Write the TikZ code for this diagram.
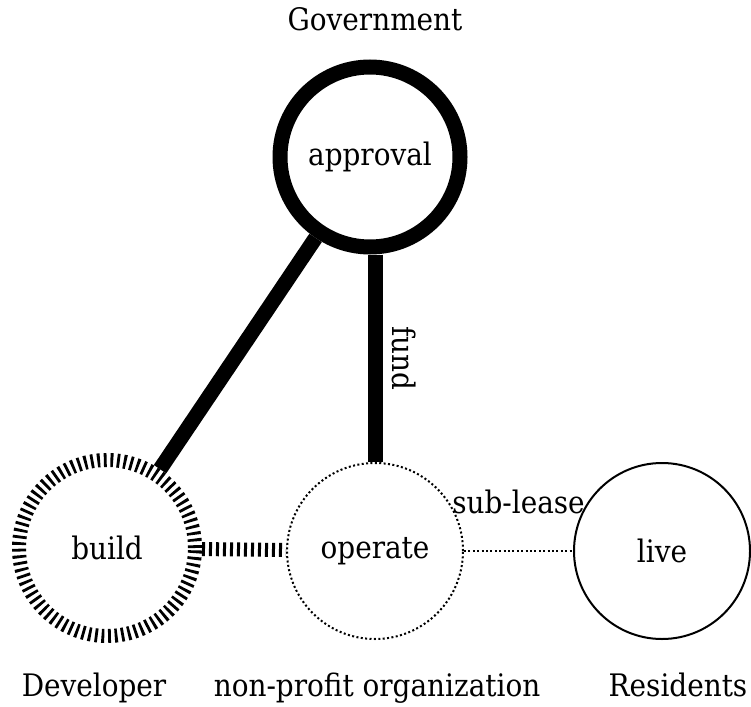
\documentclass[tikz,border=0pt]{standalone}
\usepackage{fontspec}
\setmainfont{DejaVu Serif Condensed}
\usetikzlibrary{positioning}
\tikzset{
  role/.style={circle,inner sep=0pt,minimum size=176pt,font=\fontsize{31}{37}\selectfont},
  gov/.style={role,draw,line width=15pt,minimum size=180pt},
  dev/.style={role,draw,line width=14pt,dash pattern=on 2.8pt off 3.8pt},
  npo/.style={role,draw,line width=2pt,dash pattern=on 2pt off 2.4pt},
  res/.style={role,draw,line width=2pt},
  tag/.style={font=\fontsize{31}{37}\selectfont,inner sep=0pt},
  caption/.style={tag,anchor=base},
  heavy/.style={line width=15pt},
  hatch/.style={line width=14pt,dash pattern=on 3pt off 4pt},
  faint/.style={line width=2pt,dash pattern=on 2pt off 2.4pt},
}

\begin{document}
\begin{tikzpicture}[x=1pt,y=-1pt]
  \useasboundingbox (0,0) rectangle (751,706);
  \node[gov] (approval) at (370,157) {approval};
  \node[dev] (build) at (107,548) {build};
  \node[npo] (operate) at (375,551) {operate};
  \node[res] (live) at (662,551) {live};
  \node[caption] (government) at (375,31) {Government};
  \node[caption] (developer) at (94,696) {Developer};
  \node[caption] (npoorg) at (377,696) {non-profit organization};
  \node[caption] (residents) at (678,696) {Residents};
  \draw[heavy] (approval) -- (build);
  \draw[heavy] (approval.south -| operate.north) -- node[midway,sloped,above,tag,inner sep=10pt]{fund} (operate.north);
  \draw[hatch] (build) -- (operate);
  \draw[faint] (operate) -- node[midway,above,tag,yshift=36pt]{sub-lease} (live);
\end{tikzpicture}
\end{document}
